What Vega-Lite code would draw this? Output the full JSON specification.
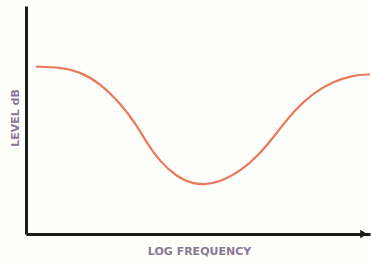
{
  "$schema": "https://vega.github.io/schema/vega-lite/v6.json",
  "autosize": "none",
  "width": 344,
  "height": 228,
  "padding": {"left": 26, "top": 6, "right": 1, "bottom": 27},
  "background": "#fefefb",
  "config": {"view": {"stroke": null}},
  "datasets": {
    "curve": [
      {"f": 2.9, "level": 73.4},
      {"f": 9.9, "level": 73.1},
      {"f": 15.7, "level": 71.2},
      {"f": 21.5, "level": 66.1},
      {"f": 27.3, "level": 57.5},
      {"f": 32.2, "level": 47.8},
      {"f": 35.1, "level": 39.9},
      {"f": 39.0, "level": 31.7},
      {"f": 43.8, "level": 25.1},
      {"f": 48.5, "level": 21.9},
      {"f": 52.5, "level": 21.8},
      {"f": 56.4, "level": 22.9},
      {"f": 62.2, "level": 27.3},
      {"f": 68.0, "level": 35.1},
      {"f": 72.9, "level": 44.3},
      {"f": 77.6, "level": 53.6},
      {"f": 83.4, "level": 61.7},
      {"f": 89.2, "level": 66.8},
      {"f": 95.1, "level": 69.7},
      {"f": 100, "level": 70.0}
    ],
    "arrow": [{"f": 98.2, "level": 0}]
  },
  "layer": [
    {
      "data": {"name": "curve"},
      "mark": {"type": "line", "color": "#e8795c", "strokeWidth": 2.2, "interpolate": "basis"},
      "encoding": {
        "x": {
          "field": "f", "type": "quantitative",
          "scale": {"domain": [0, 100], "nice": false, "zero": false},
          "axis": {
            "title": "LOG FREQUENCY", "ticks": false, "labels": false, "grid": false,
            "domainColor": "#1c1c1c", "domainWidth": 3, "domainCap": "butt",
            "titleFont": "DejaVu Sans", "titleFontWeight": "bold", "titleFontSize": 11,
            "titleColor": "#8a7895", "titleX": 173, "titleY": 17, "titleBaseline": "middle", "titleAlign": "center"
          }
        },
        "y": {
          "field": "level", "type": "quantitative",
          "scale": {"domain": [0, 100], "nice": false, "zero": false},
          "axis": {
            "title": "LEVEL dB", "ticks": false, "labels": false, "grid": false,
            "domainColor": "#1c1c1c", "domainWidth": 3, "domainCap": "butt",
            "titleFont": "DejaVu Sans", "titleFontWeight": "bold", "titleFontSize": 11,
            "titleColor": "#8a7895", "titleX": -11, "titleY": 111.5, "titleAngle": -90,
            "titleBaseline": "middle", "titleAlign": "center"
          }
        }
      }
    },
    {
      "data": {"name": "arrow"},
      "mark": {"type": "point", "shape": "triangle-right", "filled": true, "color": "#1c1c1c", "opacity": 1, "size": 70},
      "encoding": {
        "x": {"field": "f", "type": "quantitative"},
        "y": {"field": "level", "type": "quantitative"}
      }
    }
  ]
}
